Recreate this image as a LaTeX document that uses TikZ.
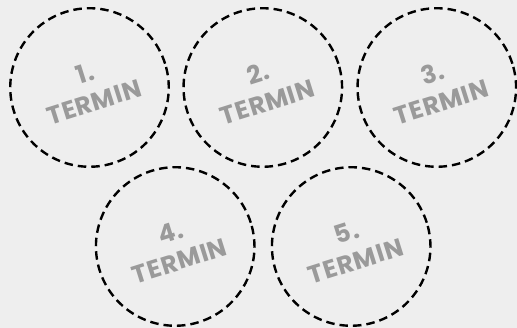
\documentclass[tikz,border=0pt]{standalone}
\usepackage{fontspec}
\setmainfont{Poppins}
\newfontfamily\terminfont[LetterSpace=3]{Poppins}
\usepackage{xcolor}
\usepackage{tikz}
\usetikzlibrary{positioning, backgrounds}
\definecolor{mybg}{HTML}{EEEEEE}
\definecolor{mygray}{HTML}{9A9A9A}
\tikzstyle{termin} = [circle, draw=black, line width=2.4pt, dash pattern=on 8.5pt off 5pt, minimum size=158.5pt, inner sep=0pt, outer sep=0pt, rotate=17.5, align=center, text=mygray, font=\terminfont\fontsize{25}{30}\selectfont\bfseries]

\begin{document}
\begin{tikzpicture}[x=1pt, y=-1pt]
    \fill[mybg] (0,0) rectangle (517,328);
    \useasboundingbox (0,0) rectangle (517,328);
    \node (t1) [termin] at (89.5,87.5) {1.\\TERMIN};
    \node (t2) [termin] at (262.8,87.5) {2.\\TERMIN};
    \node (t3) [termin] at (436.8,87.5) {3.\\TERMIN};
    \node (t4) [termin] at (175.2,246.5) {4.\\TERMIN};
    \node (t5) [termin] at (351.2,246.5) {5.\\TERMIN};
\end{tikzpicture}
\end{document}
